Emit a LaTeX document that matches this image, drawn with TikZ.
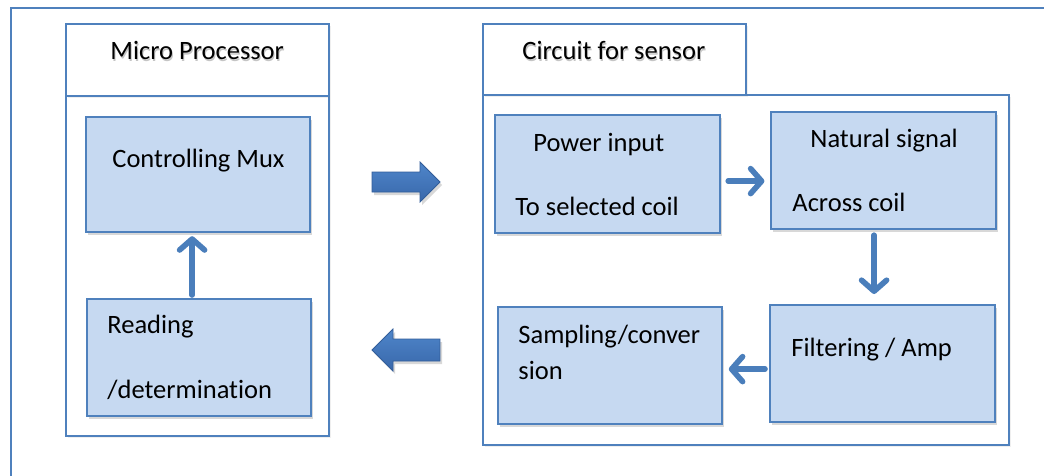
\documentclass[tikz,border=0pt]{standalone}
\usepackage{fontspec}
\setmainfont{Carlito}[Ligatures=CommonOff]
\usetikzlibrary{arrows.meta,shadows}
\definecolor{bord}{HTML}{4F81BD}
\definecolor{boxfill}{HTML}{C6D9F1}
\definecolor{arrowblue}{HTML}{4A7EBB}
\definecolor{blocktop}{HTML}{4F86CA}
\definecolor{blockbot}{HTML}{3867AA}
\begin{document}
\begin{tikzpicture}[x=0.5pt,y=-0.5pt,
  panel/.style={draw=bord, line width=1pt, fill=white, anchor=north west, inner sep=0pt,
    drop shadow={shadow xshift=1pt, shadow yshift=-1.2pt, opacity=0.12}},
  blk/.style={draw=bord, line width=1.1pt, fill=boxfill, anchor=north west, inner sep=0pt,
    drop shadow={shadow xshift=1pt, shadow yshift=-1.5pt, opacity=0.3}},
  txt/.style={anchor=base west, inner sep=0pt, font=\fontsize{13.25}{16}\selectfont},
  tshadow/.style={txt, text=black!45, opacity=0.5},
  conn/.style={draw=arrowblue, line width=2.8pt, line cap=round,
    -{Straight Barb[length=5.5pt,width=12.5pt,round]}},
  blockarrow/.style={draw=blockbot!90!black, line width=0.4pt, top color=blocktop, bottom color=blockbot,
    drop shadow={shadow xshift=1pt, shadow yshift=-1.5pt, opacity=0.3}}
]
\useasboundingbox (0,0) rectangle (1044,476);
\fill[white] (0,0) rectangle (1044,476);

% outer frame
\draw[bord, line width=0.9pt] (1044,8) -- (11,8) -- (11,476);

% Micro Processor panel
\node[panel, minimum width=131.5pt, minimum height=170pt] (mpbody) at (65,95) {};
\node[panel, minimum width=131.5pt, minimum height=36pt] (mptitle) at (65,23) {};
\node[tshadow] (mpts) at (111,61.5) {Micro Processor};
\node[txt] (mptxt) at (110,60) {Micro Processor};

% Circuit for sensor panel
\node[panel, minimum width=263pt, minimum height=175pt] (csbody) at (482,94) {};
\node[panel, minimum width=131.5pt, minimum height=35.5pt] (cstitle) at (482,23) {};
\node[tshadow] (csts) at (523,61.5) {Circuit for sensor};
\node[txt] (cstxt) at (522,60) {Circuit for sensor};

% inner blocks
\node[blk, minimum width=112pt, minimum height=57.5pt] (ctrl) at (85,116) {};
\node[blk, minimum width=112pt, minimum height=58.5pt] (read) at (86,298) {};
\node[blk, minimum width=112.5pt, minimum height=59pt] (power) at (494,114) {};
\node[blk, minimum width=112.5pt, minimum height=58.5pt] (natural) at (770,111) {};
\node[blk, minimum width=112.5pt, minimum height=58.5pt] (filter) at (769,304) {};
\node[blk, minimum width=112pt, minimum height=58.5pt] (sampling) at (497,306) {};

% texts
\node[txt] (ctrlt) at (112,168) {Controlling Mux};
\node[txt] (readt1) at (107,333) {Reading};
\node[txt] (readt2) at (107,398) {/determination};
\node[txt] (powt1) at (533,151) {Power input};
\node[txt] (powt2) at (515,215) {To selected coil};
\node[txt] (natt1) at (810,148) {Natural signal};
\node[txt] (natt2) at (792,211) {Across coil};
\node[txt] (filtt) at (791,356) {Filtering / Amp};
\node[txt] (sampt1) at (518,343) {Sampling/conver};
\node[txt] (sampt2) at (518,379) {sion};

% connectors
\draw[conn, shorten <=1.5pt, shorten >=1.5pt]
  ([xshift=-3.5pt]read.north) -- ([xshift=-3.5pt]read.north |- ctrl.south);
\draw[conn, shorten <=3.5pt, shorten >=2.8pt]
  ([yshift=-3.5pt]power.east) -- ([yshift=-3.5pt]power.east -| natural.west);
\draw[conn, shorten <=2.5pt, shorten >=5pt]
  ([xshift=-4.75pt]natural.south) -- ([xshift=-4.75pt]natural.south |- filter.north);
\draw[conn, shorten <=2pt, shorten >=2.8pt]
  ([yshift=-2.75pt]filter.west) -- ([yshift=-2.75pt]filter.west -| sampling.east);

% block arrows between panels
\path[blockarrow] (372,172) -- (420,172) -- (420,162) -- (440,182) -- (420,202) -- (420,192) -- (372,192) -- cycle;
\path[blockarrow] (440,339) -- (393,339) -- (393,329) -- (372,350) -- (393,371) -- (393,361) -- (440,361) -- cycle;
\end{tikzpicture}
\end{document}
